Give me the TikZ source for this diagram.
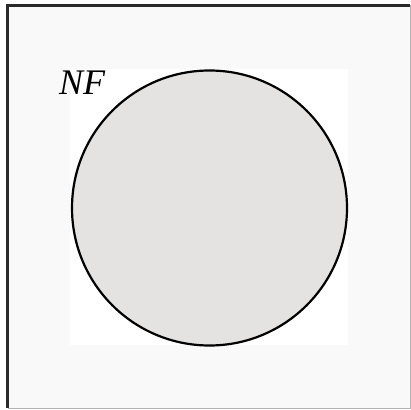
\documentclass[tikz,border=0pt]{standalone}
\usepackage{fontspec}
\setmainfont{Liberation Serif}
\usetikzlibrary{positioning}
\definecolor{framegray}{HTML}{2A2A2A}
\definecolor{panelgray}{HTML}{F9F9F9}
\definecolor{setgray}{HTML}{E4E3E2}
\tikzset{
  universe/.style={fill=panelgray, draw=none},
  setdisk/.style={circle, draw=black, line width=2.2pt, fill=setgray, minimum size=275pt, inner sep=0pt},
  setlabel/.style={font=\fontsize{36}{36}\selectfont\itshape, inner sep=0pt, anchor=base west}
}
\begin{document}
\begin{tikzpicture}[x=1pt, y=-1pt]
  \useasboundingbox (0,0) rectangle (411,409);
  % Universe frame
  \fill[universe] (7.5,5.5) rectangle (410,408);
  \draw[gray!60, line width=1pt] (410,5.5) -- (410,408) -- (7.5,408);
  \draw[framegray, line width=3pt] (7.5,408) -- (7.5,5.5) -- (410,5.5);
  % White box round the set
  \fill[white] (70,69) rectangle (348,345);
  % Set NF
  \node[setdisk] (nf) at (209.5,208) {};
  \node[setlabel] (nflabel) at (59,95) {NF};
\end{tikzpicture}
\end{document}
